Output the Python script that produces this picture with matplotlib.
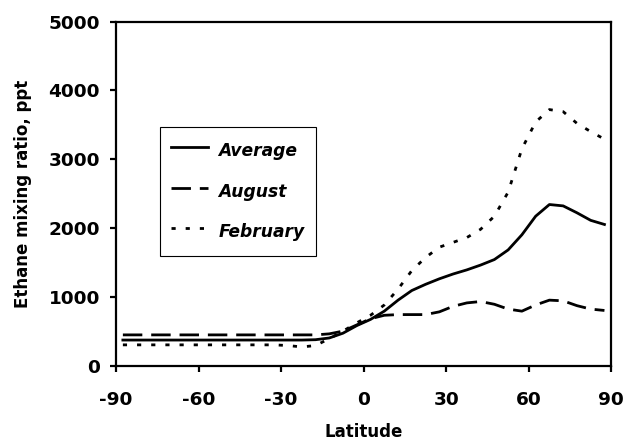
import numpy as np
import matplotlib.pyplot as plt

plt.rcParams['font.family'] = ['DejaVu Sans']
plt.rcParams['axes.unicode_minus'] = False

# zonal means in 5 degree latitude bands, -87.5 ... 87.5
lat = np.arange(-87.5, 90, 5)

average = [370, 370, 370, 370, 370, 370, 370, 370, 370, 370, 370, 370,
           370, 370, 375, 400, 470, 580, 670, 790, 950, 1090, 1180, 1260,
           1330, 1390, 1460, 1540, 1680, 1900, 2170, 2340, 2320, 2220, 2110, 2050]
august = [445, 445, 445, 445, 445, 445, 445, 445, 445, 445, 445, 445,
          445, 445, 445, 460, 500, 590, 680, 730, 740, 740, 740, 780,
          860, 910, 930, 890, 820, 790, 880, 950, 940, 870, 820, 800]
february = [300, 300, 300, 300, 300, 300, 300, 300, 300, 300, 300, 300,
            290, 270, 290, 390, 500, 620, 730, 880, 1110, 1380, 1570, 1720,
            1790, 1860, 1980, 2170, 2520, 3150, 3540, 3720, 3690, 3520, 3400, 3290]

fig = plt.figure(figsize=(6.27, 4.41), dpi=100)
ax = fig.add_axes([0.185, 0.1712, 0.790, 0.780])

ax.plot(lat, average, color='black', lw=2, label='Average')
ax.plot(lat, august, color='black', lw=2, dashes=(7, 3.2), label='August')
ax.plot(lat, february, color='black', lw=2, dashes=(1.5, 3.6), label='February')

ax.set_xlim(-90, 90)
ax.set_ylim(0, 5000)
ax.set_xticks(np.arange(-90, 91, 30))
ax.set_yticks(np.arange(0, 5001, 1000))

for s in ax.spines.values():
    s.set_linewidth(1.6)
ax.tick_params(direction='out', length=4.5, width=1.6, labelsize=13.3)
ax.tick_params(axis='x', pad=14)
ax.tick_params(axis='y', pad=7)
for t in ax.get_xticklabels() + ax.get_yticklabels():
    t.set_fontweight('bold')

ax.set_xlabel('Latitude', fontsize=12, fontweight='bold', labelpad=10)
ax.set_ylabel('Ethane mixing ratio, ppt', fontsize=12, fontweight='bold', labelpad=12)

leg = ax.legend(loc='upper left', bbox_to_anchor=(0.0888, 0.693), fancybox=False,
                edgecolor='black', framealpha=1, handlelength=2.15, handletextpad=0.63,
                handleheight=1.9, labelspacing=0.89, borderpad=0.65, borderaxespad=0,
                prop={'size': 12.3, 'weight': 'bold', 'style': 'italic'})
leg.get_frame().set_linewidth(0.8)

fig.savefig('out.png', dpi=100)
